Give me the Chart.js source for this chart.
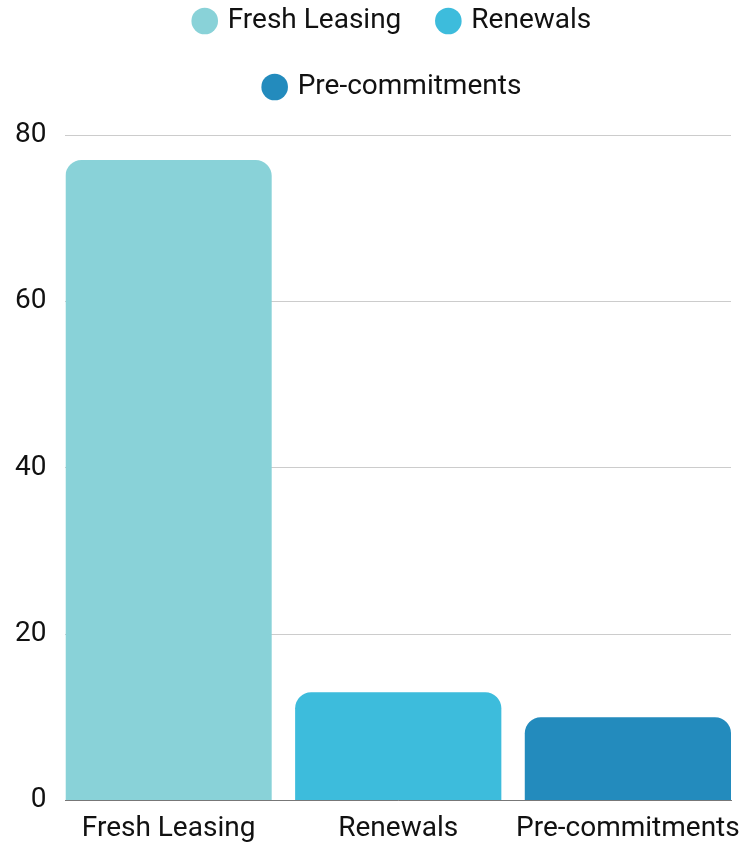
<!DOCTYPE html>
<html>
<head>
<meta charset="utf-8">
<script src="https://cdn.jsdelivr.net/npm/chart.js@4.4.1/dist/chart.umd.min.js"></script>
<style>
  html, body { margin: 0; padding: 0; background: #ffffff; }
  #wrap { width: 753px; height: 842px; }
</style>
</head>
<body>
<div id="wrap"><canvas id="c" width="753" height="842"></canvas></div>
<script>
const categories = ["Fresh Leasing", "Renewals", "Pre-commitments"];
const values = [77, 13, 10];
const colors = ["#89D2D8", "#3DBCDC", "#238BBD"];
const yTicks = [0, 20, 40, 60, 80];

const FONT = "Roboto";
const FSIZE = 28;

const datasets = categories.map((name, i) => ({
  label: name,
  data: [{ x: i, y: values[i] }],
  backgroundColor: colors[i],
  borderRadius: 16,
  borderSkipped: 'bottom',
  categoryPercentage: 1,
  barPercentage: 0.898
}));

const layoutTweaks = {
  id: 'layoutTweaks',
  beforeLayout(chart) {
    const lg = chart.legend;
    if (lg && !lg._patched) {
      const orig = lg.fit;
      lg.fit = function () { orig.call(this); this.height += 24; };
      lg._patched = true;
    }
  },
  afterLayout(chart) {
    const lg = chart.legend;
    if (lg) { lg.left += 30; lg.right += 30; }
  }
};

new Chart(document.getElementById('c'), {
  type: 'bar',
  data: { datasets },
  plugins: [layoutTweaks],
  options: {
    responsive: false,
    animation: false,
    layout: { padding: { left: -4, right: 22, top: -31, bottom: -8 } },
    plugins: {
      legend: {
        position: 'top',
        labels: {
          usePointStyle: true,
          pointStyle: 'circle',
          boxHeight: 18.8,
          boxWidth: 18,
          padding: 38,
          color: '#111',
          font: { family: FONT, size: FSIZE }
        }
      },
      tooltip: { enabled: false }
    },
    scales: {
      x: {
        type: 'linear',
        stacked: true,
        offset: false,
        min: -0.449,
        max: 2.449,
        grid: { display: false },
        border: { display: true, color: '#777', width: 1 },
        afterBuildTicks: (scale) => { scale.ticks = categories.map((c, i) => ({ value: i })); },
        ticks: {
          autoSkip: false,
          maxRotation: 0,
          padding: 4,
          color: '#111',
          font: { family: FONT, size: FSIZE },
          callback: (v) => categories[v]
        }
      },
      y: {
        stacked: true,
        min: 0,
        max: 80,
        afterBuildTicks: (scale) => { scale.ticks = yTicks.map(v => ({ value: v })); },
        grid: { color: '#cccccc', drawTicks: false },
        border: { display: false },
        ticks: {
          padding: 19,
          color: '#111',
          font: { family: FONT, size: FSIZE }
        }
      }
    }
  }
});
</script>
</body>
</html>
